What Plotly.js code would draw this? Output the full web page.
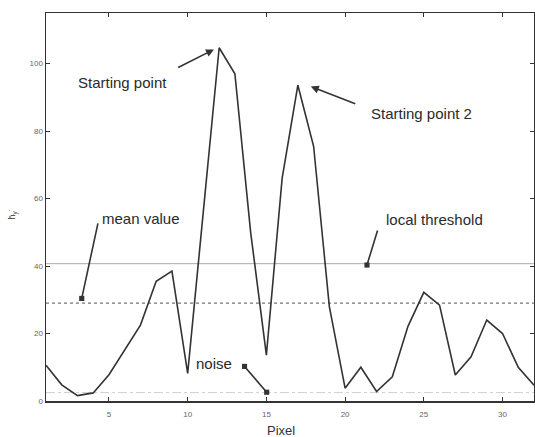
<!DOCTYPE html>
<html>
<head>
<meta charset="utf-8">
<script src="https://cdn.plot.ly/plotly-3.0.1.min.js"></script>
<style>html,body{margin:0;padding:0;background:#fff;}#chart{width:535px;height:437px;}</style>
</head>
<body>
<div id="chart"></div>
<script>
// ---- data ----
const pixels = [1,2,3,4,5,6,7,8,9,10,11,12,13,14,15,16,17,18,19,20,21,22,23,24,25,26,27,28,29,30,31,32];
const response = [10.6,4.8,1.6,2.4,7.8,15,22.5,35.5,38.5,8.2,57,104.7,97,50,13.6,66,93.6,75.5,28,3.8,10,2.8,7.2,22.2,32.2,28.4,7.7,13.1,24,20,10,4.7];
const localThreshold = 40.7;
const meanValue = 29;
const noiseLevel = 2.5;
const xTicks = [5,10,15,20,25,30];
const yTicks = [0,20,40,60,80,100];
const xSpan = [pixels[0], pixels[pixels.length-1]];

const font = "Liberation Sans, Arial, Helvetica, sans-serif";

const traces = [
  {x: xSpan, y: [noiseLevel, noiseLevel], mode: 'lines', line: {color: '#cfcfcf', width: 1, dash: 'dashdot'}, hoverinfo: 'skip'},
  {x: xSpan, y: [meanValue, meanValue], mode: 'lines', line: {color: '#777', width: 1.2, dash: 'dot'}, hoverinfo: 'skip'},
  {x: xSpan, y: [localThreshold, localThreshold], mode: 'lines', line: {color: '#aaa', width: 1}, hoverinfo: 'skip'},
  {x: pixels, y: response, mode: 'lines', line: {color: '#333', width: 1.6}}
];

const txt = (t, x, y) => ({text: t, x: x, y: y, xref: 'x', yref: 'y', showarrow: false,
  font: {family: font, size: 15, color: '#2a2a2a'}, xanchor: 'center', yanchor: 'middle'});
const arr = (hx, hy, tx, ty, head, size, extra) => Object.assign({text: '', x: hx, y: hy, ax: tx, ay: ty,
  xref: 'x', yref: 'y', axref: 'x', ayref: 'y', showarrow: true, arrowhead: head, arrowsize: size,
  arrowwidth: 1.6, arrowcolor: '#333', standoff: 0, startstandoff: 0}, extra || {});

const annotations = [
  txt('Starting point', 5.86, 94.5),
  arr(11.67, 104.2, 9.30, 98.6, 2, 1),
  txt('Starting point 2', 24.84, 85.3),
  arr(17.82, 93.2, 20.74, 87.9, 2, 1),
  txt('mean value', 7.04, 54.2),
  arr(3.27, 30.4, 4.32, 53.1, 7, 0.8),
  txt('local threshold', 25.71, 53.9),
  arr(21.39, 40.3, 22.09, 51, 7, 0.8),
  txt('noise', 11.65, 11.2),
  arr(15.02, 2.6, 13.53, 10.7, 7, 0.8, {arrowside: 'end+start', startarrowhead: 7, startarrowsize: 0.8}),
  {text: 'Pixel', xref: 'paper', yref: 'paper', x: 0.4816, y: -0.075, showarrow: false,
   font: {family: font, size: 13, color: '#333'}, xanchor: 'center', yanchor: 'middle'},
  {text: 'h\u0304<sub>y</sub><sup>-</sup>', xref: 'paper', yref: 'paper', x: -0.07, y: 0.48, showarrow: false,
   textangle: -90, font: {family: font, size: 9, color: '#555'}, xanchor: 'center', yanchor: 'middle'}
];

const axisCommon = {showgrid: false, zeroline: false, showline: true, linecolor: '#333', linewidth: 1.5,
  mirror: 'ticks', ticks: 'inside', ticklen: 4, tickwidth: 1, tickcolor: '#333',
  tickfont: {family: font, size: 8, color: '#666'}};

const layout = {
  width: 535, height: 437,
  margin: {l: 46, r: 1, t: 13, b: 36, pad: 0},
  paper_bgcolor: '#fff', plot_bgcolor: '#fff',
  showlegend: false,
  xaxis: Object.assign({}, axisCommon, {range: xSpan, tickmode: 'array', tickvals: xTicks, ticktext: xTicks.map(String), ticklabelstandoff: 5}),
  yaxis: Object.assign({}, axisCommon, {range: [0, 115], tickmode: 'array', tickvals: yTicks, ticktext: yTicks.map(String)}),
  annotations: annotations
};

Plotly.newPlot('chart', traces, layout, {staticPlot: true, displayModeBar: false});
</script>
</body>
</html>
